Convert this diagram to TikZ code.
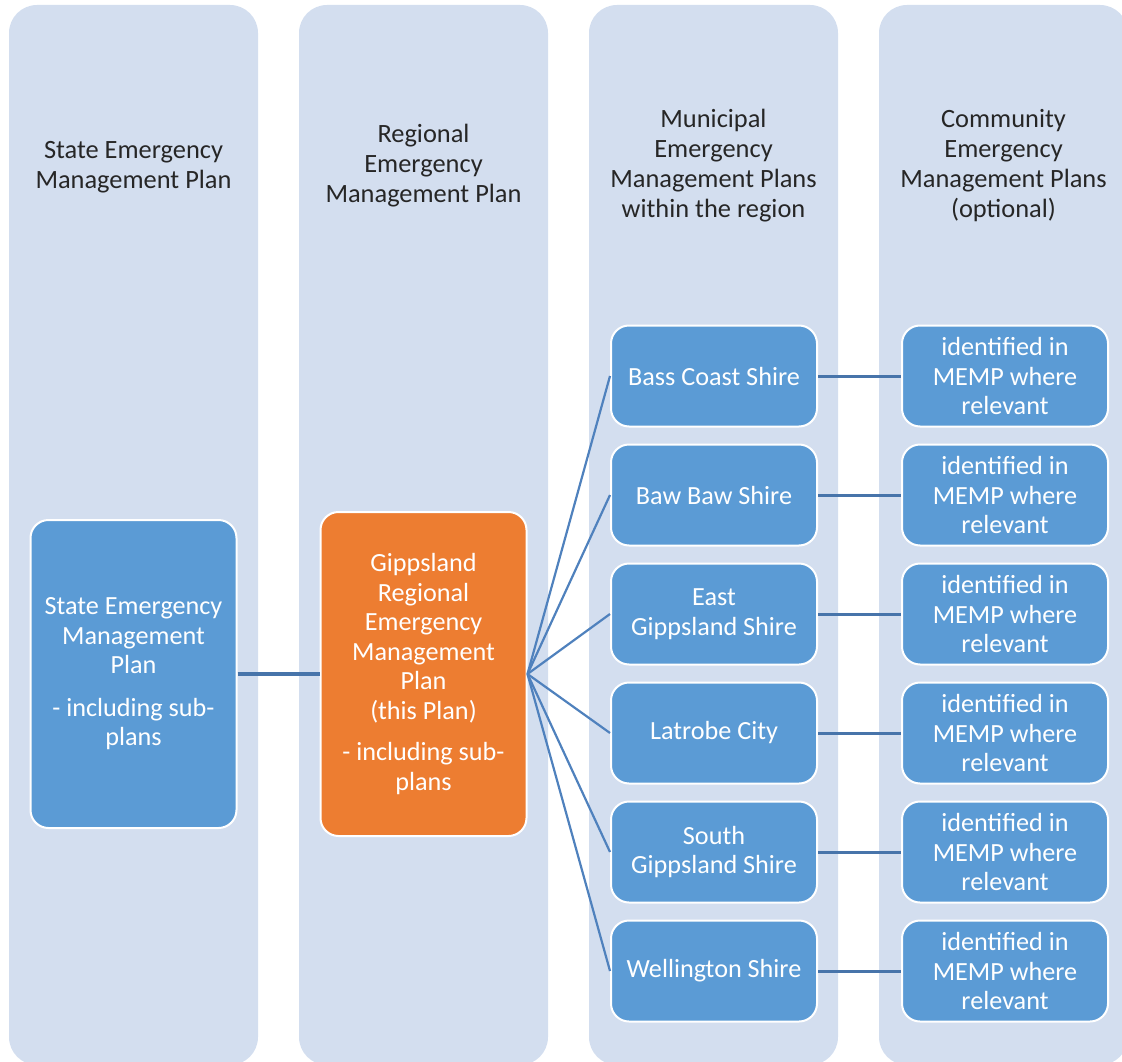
\documentclass[tikz,border=0pt]{standalone}
\usepackage{fontspec}
\setmainfont{Carlito}
\definecolor{lanefill}{HTML}{D3DEEF}
\definecolor{boxfill}{HTML}{5B9BD5}
\definecolor{planfill}{HTML}{ED7D31}
\definecolor{linkcol}{HTML}{4F81BD}
\begin{document}
\begin{tikzpicture}
[x=1pt,y=-1pt,
lane/.style={rectangle,rounded corners=28pt,fill=lanefill,minimum width=249pt,minimum height=1060pt},
head/.style={align=center,text=black!85,font=\fontsize{26.4}{30}\selectfont},
plan/.style={rectangle,rounded corners=18pt,draw=white,line width=2pt,text=white,align=center,font=\fontsize{26.2}{29.5}\selectfont},
muni/.style={plan,fill=boxfill,minimum width=206pt,minimum height=101pt},
link/.style={draw=linkcol,line width=2.2pt}]
\useasboundingbox (0,0) rectangle (1122,1062);
%lanes
\foreach \x / \n in {133.5/1,423.5/2,713.5/3,1003.5/4}
{
	\node[lane] (lane\n) at (\x,535) {};
}
%headers
\node[head] (h1) at (133.5,167) {State Emergency\\Management Plan};
\node[head] (h2) at (423.5,166) {Regional\\Emergency\\Management Plan};
\node[head] (h3) at (713.5,166) {Municipal\\Emergency\\Management Plans\\within the region};
\node[head] (h4) at (1003.5,166) {Community\\Emergency\\Management Plans\\(optional)};
%state and region
\node[plan,fill=boxfill,minimum width=206pt,minimum height=308pt] (state) at (133.5,674)
	{State Emergency\\Management\\Plan\\[13pt]- including sub-\\plans};
\node[plan,fill=planfill,minimum width=206pt,minimum height=324pt] (region) at (423.5,674)
	{Gippsland\\Regional\\Emergency\\Management\\Plan\\(this Plan)\\[12pt]- including sub-\\plans};
\draw[link,line width=3.5pt,draw=linkcol!90!black] (state) -- (region);
%municipalities and community plans
\foreach \y / \n / \t in {376/1/Bass Coast Shire,495/2/Baw Baw Shire,614/3/East\\Gippsland Shire,733/4/Latrobe City,852/5/South\\Gippsland Shire,971/6/Wellington Shire}
{
	\node[muni] (m\n) at (714,\y) {\t};
	\node[muni,minimum width=206pt] (c\n) at (1005,\y) {identified in\\MEMP where\\relevant};
	\draw[link] (region.east) -- (m\n.west);
	\draw[link,line width=3pt,draw=linkcol!90!black] (m\n) -- (c\n);
}
\end{tikzpicture}
\end{document}
